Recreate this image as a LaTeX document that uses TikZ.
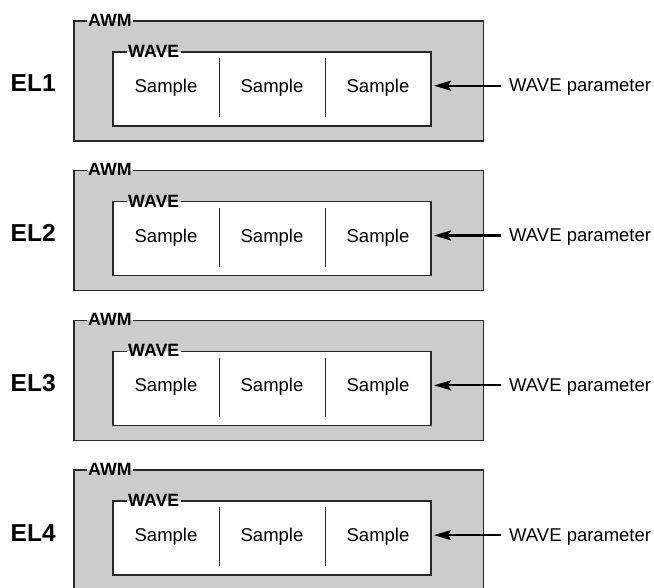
\documentclass[tikz,border=0pt]{standalone}
\usepackage{fontspec}
\setmainfont{Liberation Sans}
\usetikzlibrary{arrows.meta}
\definecolor{awmfill}{RGB}{204,204,204}
\definecolor{edge}{RGB}{40,40,40}
\begin{document}
\begin{tikzpicture}[x=1pt,y=-1pt,
  frame/.style={draw=edge, line width=1.6pt, line join=miter},
  boxnode/.style={anchor=north west, inner sep=0pt, outer sep=0pt},
  tag/.style={font=\fontsize{17.8}{20}\selectfont\bfseries, inner xsep=1.5pt, inner ysep=0pt, anchor=base west},
  smp/.style={font=\fontsize{18.5}{22}\selectfont, anchor=base},
  ellab/.style={font=\fontsize{24.5}{28}\selectfont\bfseries, anchor=base west, inner sep=0pt},
  divider/.style={draw=edge, line width=0.9pt},
  arr/.style={-{Stealth[length=17pt,width=10pt,inset=3pt]}, line width=2.2pt, draw=black}]
\useasboundingbox (0,0) rectangle (654,587);
\clip (0,0) rectangle (654,587);
\foreach \i in {1,...,4}{
  \pgfmathsetmacro{\t}{20.7+149.8*(\i-1)}
  \begin{scope}[shift={(0,\t)}]
    % AWM box
    \node[boxnode, fill=awmfill, minimum width=409.5pt, minimum height=120pt] (awmbox\i) at (74,0) {};
    \node[tag] (awm\i) at (86.5,5.3) {AWM};
    \draw[frame] (awm\i.east |- awmbox\i.north) -- (awmbox\i.north east) -- (awmbox\i.south east)
      -- (awmbox\i.south west) -- (awmbox\i.north west) -- (awm\i.west |- awmbox\i.north);
    % WAVE box
    \node[boxnode, fill=white, minimum width=318pt, minimum height=74pt] (wbox\i) at (113,31) {};
    \node[tag] (wave\i) at (126.5,36.6) {WAVE};
    \draw[frame] (wave\i.east |- wbox\i.north) -- (wbox\i.north east) -- (wbox\i.south east)
      -- (wbox\i.south west) -- (wbox\i.north west) -- (wave\i.west |- wbox\i.north);
    % samples
    \node[smp] (sa\i) at (166,71.6) {Sample};
    \node[smp] (sb\i) at (272,71.6) {Sample};
    \node[smp] (sc\i) at (378,71.6) {Sample};
    \draw[divider] (219,37.3) -- (219,96.3);
    \draw[divider] (325,37.3) -- (325,96.3);
    % EL label
    \node[ellab] (el\i) at (10.5,71) {EL\i};
    % parameter
    \node[smp, anchor=base west, inner sep=0pt] (wp\i) at (509,71) {WAVE parameter};
    \coordinate (as\i) at (501,65);
    \draw[arr, shorten >=3pt] (as\i) -- (wbox\i.east |- as\i);
  \end{scope}
}
\end{tikzpicture}
\end{document}
